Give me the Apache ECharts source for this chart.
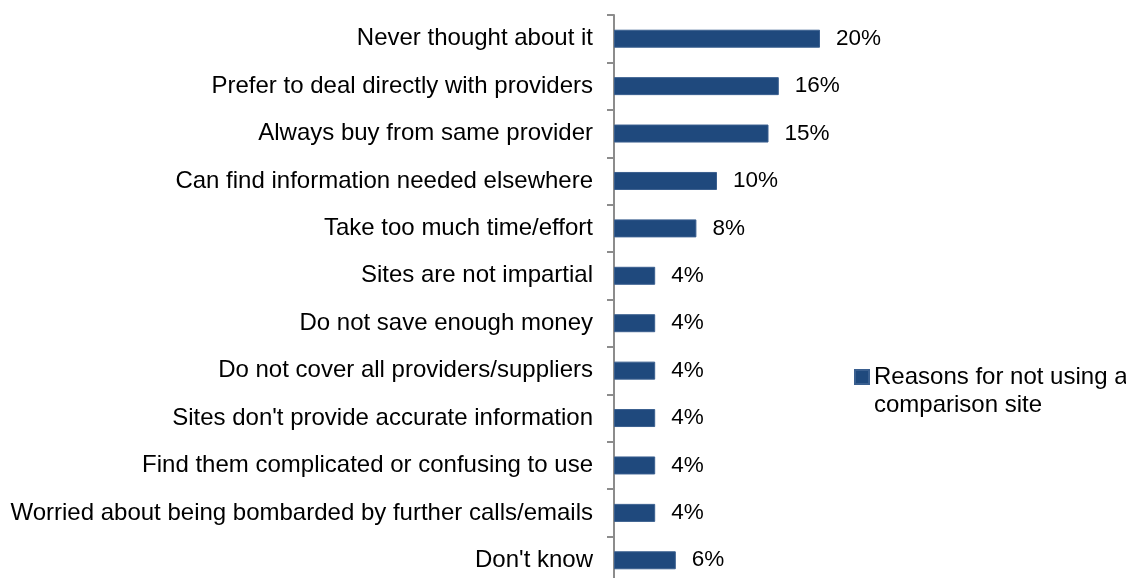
<!DOCTYPE html>
<html>
<head>
<meta charset="utf-8">
<script src="https://cdn.jsdelivr.net/npm/echarts@6/dist/echarts.min.js"></script>
<style>
  html, body { margin: 0; padding: 0; background: #fff; }
  #chart { width: 1126px; height: 578px; }
</style>
</head>
<body>
<div id="chart"></div>
<script>
// Reasons given for not using a comparison site (share of respondents, %)
const categories = [
  'Never thought about it',
  'Prefer to deal directly with providers',
  'Always buy from same provider',
  'Can find information needed elsewhere',
  'Take too much time/effort',
  'Sites are not impartial',
  'Do not save enough money',
  'Do not cover all providers/suppliers',
  "Sites don't provide accurate information",
  'Find them complicated or confusing to use',
  'Worried about being bombarded by further calls/emails',
  "Don't know"
];
const values = [20, 16, 15, 10, 8, 4, 4, 4, 4, 4, 4, 6];
const seriesName = 'Reasons for not using a comparison site';
// leading empty line keeps the marker level with the first text line
const legendLabel = '\nReasons for not using a\ncomparison site';

const FONT = '"Liberation Sans", Arial, sans-serif';
const chart = echarts.init(document.getElementById('chart'));

chart.setOption({
  animation: false,
  backgroundColor: '#ffffff',
  textStyle: { fontFamily: FONT },
  grid: {
    left: 614, width: 206, top: 15, height: 569,
    containLabel: false,
    outerBoundsMode: 'none'
  },
  legend: {
    data: [seriesName],
    left: 854,
    top: 335,
    padding: 0,
    icon: 'rect',
    itemWidth: 14,
    itemHeight: 14,
    formatter: () => legendLabel,
    textStyle: {
      fontFamily: FONT,
      fontSize: 24,
      color: '#000',
      lineHeight: 28
    }
  },
  xAxis: {
    type: 'value',
    min: 0,
    max: 20,
    show: false
  },
  yAxis: {
    type: 'category',
    data: categories,
    inverse: true,
    axisLine: { show: true, lineStyle: { color: '#8c8c8c', width: 2 } },
    axisTick: { show: true, length: 7, lineStyle: { color: '#8c8c8c', width: 2 } },
    axisLabel: { fontFamily: FONT, fontSize: 24, color: '#000', margin: 21 },
    splitLine: { show: false }
  },
  series: [{
    name: seriesName,
    type: 'bar',
    data: values,
    barWidth: 18,
    itemStyle: { color: '#1f497d', borderColor: '#3a5f8f', borderWidth: 1 },
    label: {
      show: true,
      position: 'right',
      distance: 16,
      formatter: p => p.value + '%',
      fontFamily: FONT,
      fontSize: 22.5,
      color: '#000'
    }
  }]
});
</script>
</body>
</html>
